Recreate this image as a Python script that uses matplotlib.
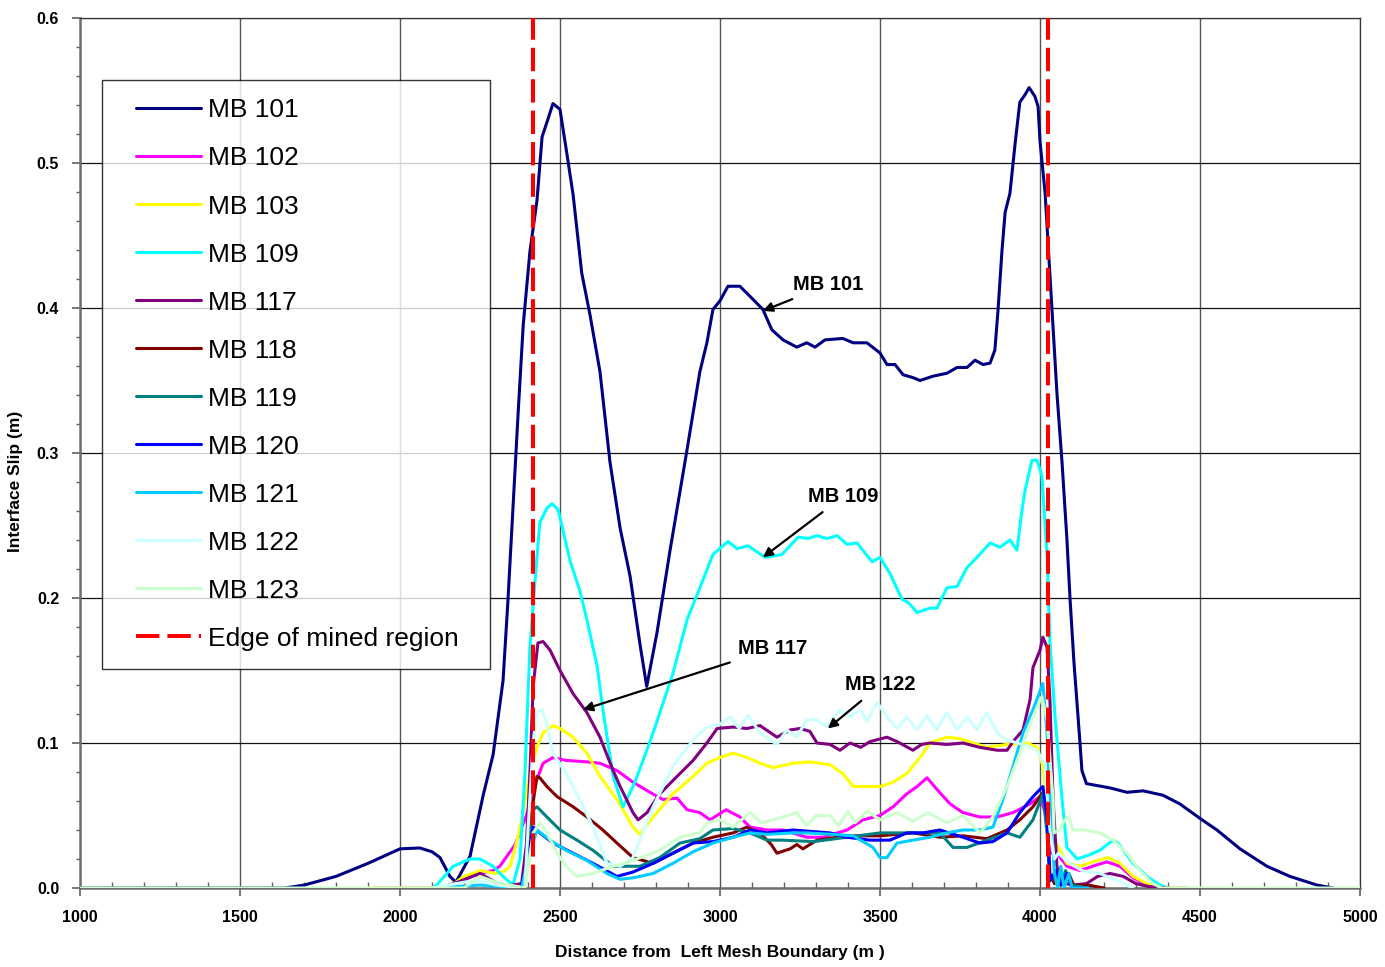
import matplotlib
matplotlib.use("Agg")
import matplotlib.pyplot as plt
from matplotlib.legend_handler import HandlerLine2D
import numpy as np

plt.rcParams['font.family'] = ['Liberation Sans', 'DejaVu Sans']

# ---------------- data (x in m, slip in m) ----------------
mb101 = [(1000, 0), (1640, 0), (1700, 0.002), (1800, 0.008), (1900, 0.017), (1950, 0.022),
         (2000, 0.027), (2062, 0.0276), (2100, 0.025), (2125, 0.021), (2156, 0.008), (2175, 0.004),
         (2219, 0.022), (2260, 0.064), (2291, 0.092), (2322, 0.143), (2337, 0.197), (2369, 0.327),
         (2385, 0.388), (2406, 0.439), (2428, 0.474), (2444, 0.518), (2459, 0.528), (2478, 0.541),
         (2500, 0.537), (2519, 0.51), (2541, 0.478), (2568, 0.424), (2594, 0.395), (2625, 0.356),
         (2656, 0.294), (2688, 0.248), (2719, 0.215), (2750, 0.168), (2771, 0.139), (2803, 0.176),
         (2844, 0.233), (2896, 0.301), (2937, 0.356), (2959, 0.376), (2978, 0.399), (3000, 0.405),
         (3025, 0.415), (3062, 0.415), (3094, 0.408), (3134, 0.399), (3162, 0.385), (3197, 0.378),
         (3240, 0.373), (3271, 0.376), (3297, 0.373), (3328, 0.378), (3384, 0.379), (3416, 0.376),
         (3459, 0.376), (3500, 0.369), (3522, 0.361), (3547, 0.361), (3572, 0.354), (3603, 0.352),
         (3625, 0.350), (3666, 0.353), (3709, 0.355), (3741, 0.359), (3772, 0.359), (3797, 0.364),
         (3822, 0.361), (3844, 0.362), (3859, 0.371), (3869, 0.399), (3881, 0.439), (3891, 0.466),
         (3906, 0.479), (3922, 0.513), (3937, 0.542), (3953, 0.547), (3966, 0.552), (3984, 0.546),
         (3994, 0.539), (4000, 0.515), (4016, 0.479), (4031, 0.423), (4041, 0.386), (4053, 0.341),
         (4069, 0.293), (4084, 0.241), (4094, 0.199), (4106, 0.156), (4125, 0.1), (4131, 0.081),
         (4145, 0.072), (4219, 0.069), (4272, 0.066), (4322, 0.067), (4384, 0.064), (4437, 0.058),
         (4500, 0.048), (4553, 0.040), (4625, 0.027), (4709, 0.015), (4781, 0.008), (4866, 0.002),
         (4916, 0.0)]

mb102 = [(1920, 0), (2150, 0), (2200, 0.006), (2250, 0.01), (2290, 0.012), (2312, 0.015),
         (2360, 0.03), (2395, 0.05), (2416, 0.068), (2447, 0.086), (2478, 0.090), (2519, 0.088),
         (2584, 0.087), (2625, 0.086), (2678, 0.081), (2728, 0.073), (2781, 0.066), (2822, 0.061),
         (2866, 0.062), (2897, 0.054), (2937, 0.052), (2969, 0.047), (3019, 0.054), (3062, 0.049),
         (3094, 0.042), (3147, 0.040), (3197, 0.040), (3271, 0.035), (3322, 0.035), (3397, 0.040),
         (3447, 0.047), (3500, 0.050), (3541, 0.056), (3584, 0.065), (3616, 0.070), (3647, 0.076),
         (3678, 0.068), (3719, 0.058), (3759, 0.052), (3812, 0.049), (3866, 0.049), (3916, 0.052),
         (3969, 0.058), (4000, 0.063), (4016, 0.052), (4031, 0.024), (4053, 0.024), (4084, 0.015),
         (4125, 0.012), (4178, 0.016), (4209, 0.018), (4250, 0.015), (4291, 0.007), (4334, 0.002),
         (4370, 0), (4460, 0)]

mb103 = [(1900, 0), (2150, 0), (2200, 0.008), (2250, 0.012), (2300, 0.01), (2330, 0.012),
         (2344, 0.015), (2366, 0.033), (2385, 0.052), (2410, 0.085), (2428, 0.097), (2447, 0.107),
         (2478, 0.112), (2500, 0.110), (2541, 0.104), (2584, 0.093), (2625, 0.077), (2678, 0.061),
         (2728, 0.042), (2750, 0.037), (2791, 0.049), (2853, 0.065), (2916, 0.077), (2959, 0.086),
         (3000, 0.090), (3041, 0.093), (3084, 0.090), (3125, 0.086), (3166, 0.083), (3228, 0.086),
         (3281, 0.087), (3344, 0.085), (3384, 0.079), (3416, 0.070), (3459, 0.070), (3500, 0.070),
         (3541, 0.073), (3584, 0.079), (3625, 0.090), (3656, 0.100), (3709, 0.104), (3750, 0.103),
         (3791, 0.100), (3834, 0.097), (3897, 0.099), (3959, 0.100), (3991, 0.097), (4009, 0.084),
         (4022, 0.061), (4037, 0.035), (4053, 0.030), (4084, 0.017), (4125, 0.015), (4178, 0.019),
         (4213, 0.021), (4250, 0.017), (4291, 0.008), (4334, 0.003), (4375, 0), (4460, 0)]

mb109 = [(2100, 0), (2115, 0.002), (2166, 0.015), (2219, 0.02), (2250, 0.02), (2291, 0.015),
         (2322, 0.008), (2353, 0.002), (2375, 0.02), (2390, 0.077), (2406, 0.166), (2422, 0.212),
         (2437, 0.252), (2459, 0.262), (2475, 0.265), (2494, 0.261), (2509, 0.247), (2531, 0.226),
         (2562, 0.205), (2584, 0.185), (2616, 0.153), (2634, 0.123), (2666, 0.077), (2697, 0.056),
         (2728, 0.07), (2741, 0.077), (2791, 0.107), (2853, 0.148), (2897, 0.185), (2937, 0.207),
         (2978, 0.23), (3025, 0.239), (3053, 0.234), (3088, 0.236), (3141, 0.228), (3193, 0.230),
         (3245, 0.242), (3275, 0.241), (3303, 0.243), (3334, 0.241), (3366, 0.243), (3397, 0.237),
         (3428, 0.238), (3475, 0.225), (3500, 0.228), (3531, 0.217), (3569, 0.199), (3588, 0.197),
         (3616, 0.190), (3656, 0.193), (3678, 0.193), (3709, 0.207), (3741, 0.208), (3772, 0.221),
         (3803, 0.228), (3844, 0.238), (3875, 0.235), (3906, 0.240), (3928, 0.233), (3944, 0.261),
         (3953, 0.274), (3975, 0.295), (3991, 0.295), (4006, 0.284), (4022, 0.23), (4031, 0.17),
         (4047, 0.118), (4069, 0.061), (4084, 0.028), (4116, 0.020), (4156, 0.023), (4187, 0.026),
         (4228, 0.033), (4244, 0.031), (4291, 0.017), (4334, 0.008), (4375, 0.002), (4400, 0)]

mb117 = [(2125, 0), (2180, 0.004), (2250, 0.01), (2290, 0.005), (2320, 0.001), (2380, 0.003),
         (2395, 0.03), (2406, 0.079), (2416, 0.139), (2431, 0.169), (2447, 0.170), (2469, 0.164),
         (2500, 0.150), (2541, 0.134), (2584, 0.121), (2625, 0.104), (2666, 0.081), (2688, 0.070),
         (2728, 0.052), (2744, 0.047), (2772, 0.052), (2812, 0.065), (2866, 0.077), (2916, 0.088),
         (2959, 0.100), (2991, 0.110), (3041, 0.111), (3084, 0.110), (3125, 0.112), (3178, 0.104),
         (3219, 0.109), (3250, 0.110), (3281, 0.108), (3303, 0.100), (3344, 0.099), (3375, 0.095),
         (3406, 0.100), (3440, 0.097), (3469, 0.101), (3522, 0.104), (3553, 0.101), (3603, 0.095),
         (3630, 0.099), (3656, 0.100), (3709, 0.099), (3759, 0.100), (3812, 0.097), (3866, 0.095),
         (3897, 0.095), (3916, 0.101), (3947, 0.109), (3969, 0.130), (3978, 0.152), (4000, 0.164),
         (4009, 0.173), (4022, 0.166), (4031, 0.130), (4041, 0.061), (4053, 0.015), (4065, 0.004),
         (4100, 0.002), (4145, 0.003), (4180, 0.008), (4219, 0.010), (4260, 0.008), (4300, 0.003),
         (4340, 0.001), (4400, 0)]

mb118 = [(2380, 0), (2395, 0.01), (2410, 0.05), (2428, 0.077), (2437, 0.076), (2459, 0.070),
         (2491, 0.063), (2541, 0.056), (2584, 0.049), (2634, 0.040), (2678, 0.031), (2728, 0.021),
         (2791, 0.017), (2853, 0.024), (2916, 0.031), (2978, 0.035), (3041, 0.038), (3084, 0.042),
         (3125, 0.038), (3160, 0.030), (3178, 0.024), (3219, 0.027), (3240, 0.030), (3259, 0.027),
         (3303, 0.033), (3397, 0.036), (3500, 0.036), (3603, 0.038), (3687, 0.035), (3759, 0.036),
         (3834, 0.034), (3897, 0.040), (3937, 0.047), (3978, 0.056), (4009, 0.066), (4022, 0.049),
         (4031, 0.010), (4045, 0.003), (4060, 0.012), (4075, 0.002), (4090, 0.010), (4105, 0.002),
         (4150, 0.002), (4200, 0)]

mb119 = [(2380, 0), (2400, 0.02), (2416, 0.054), (2428, 0.056), (2459, 0.049), (2500, 0.040),
         (2553, 0.033), (2603, 0.026), (2666, 0.015), (2750, 0.015), (2812, 0.021), (2875, 0.031),
         (2937, 0.034), (2978, 0.040), (3041, 0.041), (3094, 0.038), (3147, 0.033), (3197, 0.033),
         (3291, 0.032), (3397, 0.035), (3500, 0.038), (3553, 0.038), (3625, 0.038), (3687, 0.038),
         (3728, 0.028), (3772, 0.028), (3834, 0.033), (3897, 0.038), (3937, 0.035), (3978, 0.047),
         (4009, 0.065), (4022, 0.038), (4031, 0.005), (4050, 0.01), (4065, 0.002), (4080, 0.012),
         (4100, 0.002), (4150, 0)]

mb120 = [(2380, 0), (2400, 0.02), (2416, 0.042), (2437, 0.038), (2478, 0.031), (2541, 0.024),
         (2603, 0.017), (2678, 0.008), (2728, 0.011), (2791, 0.017), (2853, 0.024), (2916, 0.031),
         (2978, 0.032), (3041, 0.035), (3094, 0.040), (3147, 0.038), (3228, 0.040), (3344, 0.038),
         (3397, 0.035), (3469, 0.033), (3531, 0.033), (3584, 0.038), (3634, 0.038), (3687, 0.040),
         (3759, 0.035), (3812, 0.031), (3853, 0.032), (3897, 0.038), (3937, 0.052), (3978, 0.063),
         (4009, 0.070), (4022, 0.049), (4031, 0.005), (4050, 0.012), (4065, 0.002), (4085, 0.01),
         (4100, 0), (4150, 0)]

mb121 = [(2100, 0), (2250, 0.002), (2380, 0), (2400, 0.02), (2428, 0.040), (2469, 0.033),
         (2519, 0.026), (2584, 0.019), (2647, 0.010), (2688, 0.006), (2728, 0.007), (2791, 0.010),
         (2853, 0.017), (2916, 0.025), (2978, 0.031), (3041, 0.035), (3094, 0.038), (3147, 0.037),
         (3228, 0.038), (3271, 0.038), (3350, 0.037), (3416, 0.036), (3478, 0.028), (3500, 0.021),
         (3522, 0.021), (3553, 0.031), (3603, 0.033), (3656, 0.035), (3709, 0.038), (3759, 0.040),
         (3812, 0.040), (3853, 0.042), (3884, 0.061), (3916, 0.084), (3947, 0.107), (3978, 0.123),
         (4009, 0.141), (4022, 0.107), (4031, 0.061), (4045, 0.01), (4055, 0.0), (4065, 0.015),
         (4075, 0.0), (4090, 0.01), (4100, 0), (4150, 0)]

mb122 = [(2100, 0), (2200, 0.004), (2250, 0.005), (2300, 0.002), (2390, 0.0), (2400, 0.04),
         (2416, 0.1), (2428, 0.121), (2444, 0.123), (2459, 0.113), (2478, 0.093), (2519, 0.079),
         (2562, 0.061), (2603, 0.042), (2647, 0.017), (2688, 0.015), (2728, 0.021), (2791, 0.056),
         (2853, 0.084), (2916, 0.102), (2959, 0.111), (3000, 0.113), (3031, 0.118), (3060, 0.110),
         (3088, 0.119), (3125, 0.107), (3178, 0.099), (3209, 0.109), (3240, 0.104), (3271, 0.116),
         (3303, 0.116), (3334, 0.111), (3375, 0.123), (3406, 0.118), (3438, 0.123), (3460, 0.115),
         (3491, 0.128), (3522, 0.118), (3553, 0.110), (3584, 0.118), (3616, 0.109), (3647, 0.119),
         (3678, 0.109), (3709, 0.121), (3741, 0.109), (3772, 0.118), (3803, 0.109), (3834, 0.121),
         (3866, 0.107), (3897, 0.102), (3930, 0.100), (3960, 0.098), (3990, 0.095), (4015, 0.085),
         (4031, 0.04), (4045, 0.02), (4057, 0.024), (4094, 0.017), (4131, 0.012), (4187, 0.010),
         (4244, 0.005), (4290, 0.0)]

mb123 = [(1000, 0), (2200, 0), (2250, 0.008), (2300, 0.004), (2390, 0), (2405, 0.02),
         (2416, 0.038), (2437, 0.045), (2459, 0.038), (2491, 0.024), (2519, 0.015), (2553, 0.008),
         (2603, 0.010), (2666, 0.015), (2728, 0.019), (2812, 0.026), (2875, 0.035), (2937, 0.038),
         (2960, 0.045), (3000, 0.047), (3040, 0.042), (3094, 0.052), (3130, 0.045), (3197, 0.049),
         (3240, 0.052), (3270, 0.043), (3300, 0.05), (3344, 0.050), (3370, 0.043), (3400, 0.053),
         (3422, 0.045), (3460, 0.053), (3500, 0.047), (3553, 0.052), (3603, 0.046), (3650, 0.052),
         (3709, 0.045), (3759, 0.050), (3812, 0.038), (3853, 0.049), (3897, 0.070), (3937, 0.093),
         (3978, 0.118), (4006, 0.132), (4022, 0.116), (4041, 0.061), (4044, 0.038), (4060, 0.04),
         (4078, 0.047), (4090, 0.049), (4103, 0.040), (4140, 0.040), (4187, 0.038), (4228, 0.033),
         (4272, 0.024), (4312, 0.012), (4353, 0.003), (4380, 0), (5000, 0)]

series_labels = ['MB 101', 'MB 102', 'MB 103', 'MB 109', 'MB 117', 'MB 118',
                 'MB 119', 'MB 120', 'MB 121', 'MB 122', 'MB 123']
series_data = [mb101, mb102, mb103, mb109, mb117, mb118, mb119, mb120, mb121, mb122, mb123]
series_colors = ['#000080', '#FF00FF', '#FFFF00', '#00FFFF', '#800080', '#800000',
                 '#008080', '#0000FF', '#00CCFF', '#CCFFFF', '#CCFFCC']

mined_edges = [2416, 4025]
edge_label = 'Edge of mined region'

x_ticks = [1000, 1500, 2000, 2500, 3000, 3500, 4000, 4500, 5000]
y_ticks = [0.0, 0.1, 0.2, 0.3, 0.4, 0.5, 0.6]

# annotations: (text, text position, arrow tip)
annotations = [('MB 101', (3228, 0.416), (3134, 0.398)),
               ('MB 109', (3275, 0.270), (3134, 0.228)),
               ('MB 117', (3056, 0.165), (2572, 0.123)),
               ('MB 122', (3391, 0.140), (3337, 0.110))]

# ---------------- figure ----------------
W, H = 1385, 967
fig = plt.figure(figsize=(W / 100, H / 100), dpi=100)
ax = fig.add_axes([80 / W, 1 - 888 / H, 1280 / W, 870 / H])

lw = 2.2
handles = []
for lab, data, col in zip(series_labels, series_data, series_colors):
    xs = [p[0] for p in data]
    ys = [p[1] for p in data]
    ln, = ax.plot(xs, ys, color=col, lw=lw, label=lab, zorder=3,
                  solid_joinstyle='round', solid_capstyle='round')
    handles.append(ln)

for i, xe in enumerate(mined_edges):
    ln = ax.axvline(xe, color='#FF0000', lw=2.9, zorder=4,
                    dashes=(5.8, 2.0), label=edge_label if i == 0 else None)
    if i == 0:
        handles.append(ln)

ax.set_xlim(1000, 5000)
ax.set_ylim(0, 0.6)
ax.set_xticks(x_ticks)
ax.set_yticks(y_ticks)
ax.set_xticks(np.arange(1000, 5001, 100), minor=True)
ax.set_yticks(np.arange(0, 0.601, 0.02), minor=True)
ax.set_xticklabels([str(v) for v in x_ticks], fontsize=11.5, fontweight='bold')
ax.set_yticklabels(['%.1f' % v for v in y_ticks], fontsize=11.5, fontweight='bold')

ax.tick_params(axis='x', which='major', direction='out', length=6, width=1.2,
               color='#606060', pad=10)
ax.tick_params(axis='x', which='minor', direction='in', length=4, width=1,
               color='#606060')
ax.tick_params(axis='y', which='major', direction='out', length=6, width=1.2,
               color='#606060', pad=9)
ax.tick_params(axis='y', which='minor', direction='out', length=3, width=1,
               color='#606060')

ax.xaxis.grid(True, which='major', color='#555555', lw=1.0, zorder=1)
ax.yaxis.grid(True, which='major', color='#111111', lw=0.9, zorder=1)
ax.set_axisbelow(True)

for s in ['left', 'bottom']:
    ax.spines[s].set_color('#707070')
    ax.spines[s].set_linewidth(1.8)
for s in ['top', 'right']:
    ax.spines[s].set_color('#333333')
    ax.spines[s].set_linewidth(0.9)

ax.set_xlabel('Distance from  Left Mesh Boundary (m )', fontsize=12.5,
              fontweight='bold')
ax.xaxis.set_label_coords(0.5, -(945 - 888) / 870)
ax.set_ylabel('Interface Slip (m)', fontsize=12.5, fontweight='bold')
ax.yaxis.set_label_coords(-(80 - 23) / 1280, (888 - 481) / 870)

for txt, tpos, tip in annotations:
    ax.annotate(txt, xy=tip, xytext=tpos, fontsize=14.5, fontweight='bold',
                ha='left', va='center', zorder=6,
                arrowprops=dict(arrowstyle='-|>', color='black', lw=1.6,
                                mutation_scale=14, shrinkA=4, shrinkB=0))

fs = 19
hmap = {h: HandlerLine2D(xpad=0.57) for h in handles}
leg = ax.legend(handles=handles, loc='upper left',
                bbox_to_anchor=(22 / 1280, 0.05, 388 / 1280, (888 - 80) / 870 - 0.05),
                mode='expand', fontsize=fs, frameon=True, fancybox=False,
                borderpad=0.7, labelspacing=0.91, handlelength=3.07,
                handletextpad=0.25, borderaxespad=0, handler_map=hmap)
leg.get_frame().set_edgecolor('black')
leg.get_frame().set_linewidth(1.0)
leg.set_zorder(10)

fig.savefig('out.png', dpi=100)
